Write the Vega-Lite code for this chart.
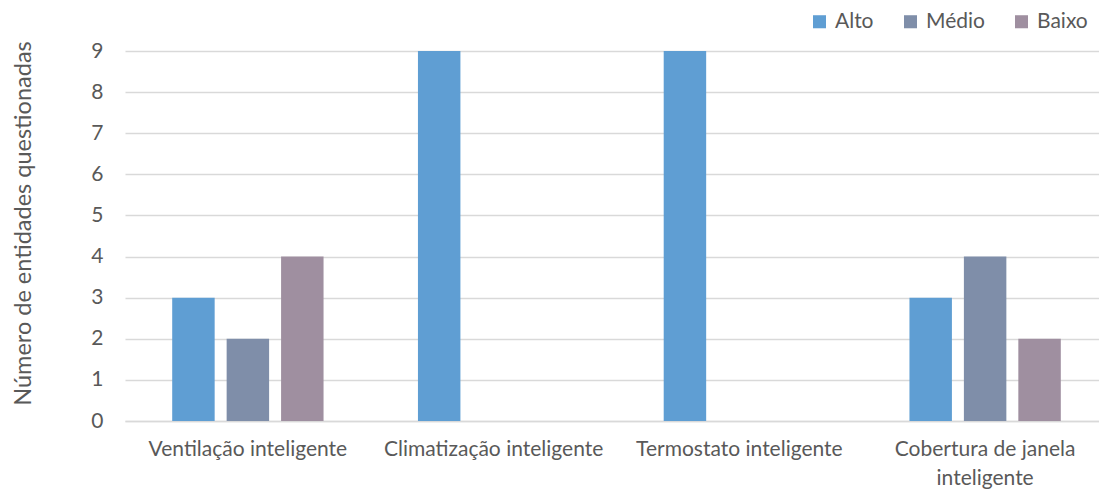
{
  "$schema": "https://vega.github.io/schema/vega-lite/v6.json",
  "width": 983,
  "height": 370,
  "autosize": "none",
  "padding": {"left": 125, "top": 51, "right": 0, "bottom": 71},
  "background": "white",
  "config": {
    "view": {"stroke": null},
    "font": "Lato"
  },
  "data": {
    "values": [
      {"cat": "Ventilação inteligente", "nivel": "Alto", "n": 3},
      {"cat": "Ventilação inteligente", "nivel": "Médio", "n": 2},
      {"cat": "Ventilação inteligente", "nivel": "Baixo", "n": 4},
      {"cat": "Climatização inteligente", "nivel": "Alto", "n": 9},
      {"cat": "Climatização inteligente", "nivel": "Médio", "n": 0},
      {"cat": "Climatização inteligente", "nivel": "Baixo", "n": 0},
      {"cat": "Termostato inteligente", "nivel": "Alto", "n": 9},
      {"cat": "Termostato inteligente", "nivel": "Médio", "n": 0},
      {"cat": "Termostato inteligente", "nivel": "Baixo", "n": 0},
      {"cat": "Cobertura de janela inteligente", "nivel": "Alto", "n": 3},
      {"cat": "Cobertura de janela inteligente", "nivel": "Médio", "n": 4},
      {"cat": "Cobertura de janela inteligente", "nivel": "Baixo", "n": 2}
    ]
  },
  "mark": {"type": "bar"},
  "encoding": {
    "x": {
      "field": "cat",
      "type": "nominal",
      "sort": null,
      "scale": {"paddingInner": 0, "paddingOuter": 0},
      "axis": {
        "title": null,
        "labelAngle": 0,
        "labelFontSize": 21,
        "labelColor": "#595959",
        "labelPadding": 17,
        "ticks": false,
        "domainColor": "#d9d9d9",
        "domainWidth": 1.5,
        "labelLimit": 300,
        "labelLineHeight": 29,
        "labelExpr": "datum.value == 'Cobertura de janela inteligente' ? ['Cobertura de janela', 'inteligente'] : datum.value"
      }
    },
    "xOffset": {
      "field": "nivel",
      "type": "nominal",
      "sort": ["Alto", "Médio", "Baixo"],
      "scale": {"paddingInner": 0.22, "paddingOuter": 0.867}
    },
    "y": {
      "field": "n",
      "type": "quantitative",
      "scale": {"domain": [0, 9], "nice": false},
      "axis": {
        "title": "Número de entidades questionadas",
        "titleFontSize": 23.5,
        "titleFontWeight": "normal",
        "titleColor": "#595959",
        "titlePadding": 55,
        "titleY": 172,
        "values": [0, 1, 2, 3, 4, 5, 6, 7, 8, 9],
        "labelOverlap": false,
        "labelFontSize": 21,
        "labelColor": "#595959",
        "labelPadding": 22,
        "ticks": false,
        "domain": false,
        "gridColor": "#d9d9d9",
        "gridWidth": 1.5
      }
    },
    "color": {
      "field": "nivel",
      "type": "nominal",
      "sort": ["Alto", "Médio", "Baixo"],
      "scale": {"domain": ["Alto", "Médio", "Baixo"], "range": ["#5f9ed3", "#7f8ea9", "#9f8fa0"]},
      "legend": {
        "title": null,
        "orient": "none",
        "direction": "horizontal",
        "legendX": 684,
        "legendY": -40,
        "symbolType": "square",
        "symbolSize": 170,
        "symbolStrokeWidth": 0,
        "labelFontSize": 21,
        "labelColor": "#595959",
        "columnPadding": 26,
        "labelOffset": 5
      }
    }
  }
}
